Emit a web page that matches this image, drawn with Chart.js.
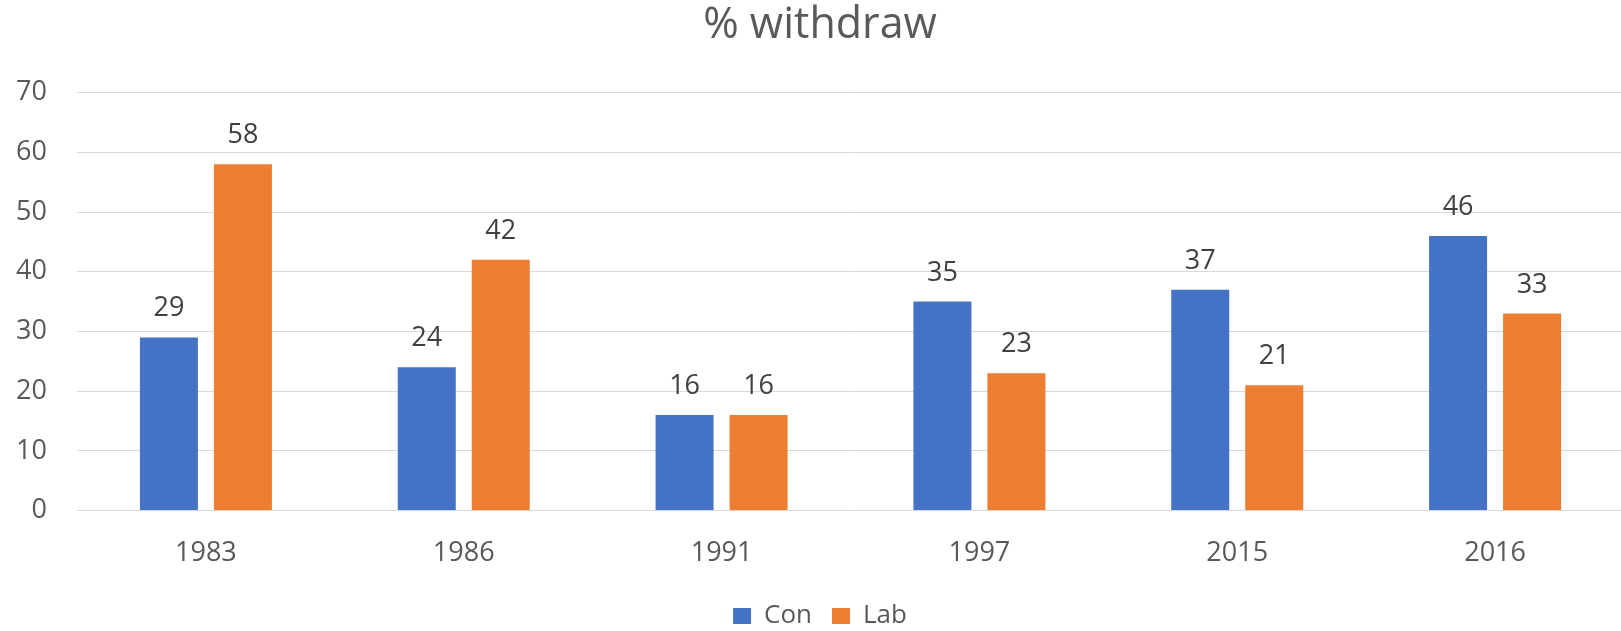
<!DOCTYPE html>
<html>
<head>
<meta charset="utf-8">
<script src="https://cdn.jsdelivr.net/npm/chart.js@4.4.0/dist/chart.umd.min.js"></script>
<style>
  html, body { margin: 0; padding: 0; background: #ffffff; overflow: hidden; }
  #wrap { width: 1648px; height: 631px; }
</style>
</head>
<body>
<div id="wrap"><canvas id="c" width="1648" height="631"></canvas></div>
<script>
const categories = ["1983", "1986", "1991", "1997", "2015", "2016"];
const conValues = [29, 24, 16, 35, 37, 46];
const labValues = [58, 42, 16, 23, 21, 33];
const seriesNames = ["Con", "Lab"];
const titleText = "% withdraw";

const FONT = "'Open Sans', 'Liberation Sans', sans-serif";

const dataLabels = {
  id: 'dataLabels',
  afterDatasetsDraw(chart) {
    const ctx = chart.ctx;
    ctx.save();
    ctx.font = "27px " + FONT;
    ctx.fillStyle = "#404040";
    ctx.textAlign = "center";
    ctx.textBaseline = "alphabetic";
    chart.data.datasets.forEach((ds, i) => {
      chart.getDatasetMeta(i).data.forEach((bar, j) => {
        ctx.fillText(String(ds.data[j]), bar.x, bar.y - 21);
      });
    });
    ctx.restore();
  }
};

new Chart(document.getElementById('c'), {
  type: 'bar',
  data: {
    labels: categories,
    datasets: [
      { label: seriesNames[0], data: conValues, backgroundColor: '#4472C4', borderWidth: 0 },
      { label: seriesNames[1], data: labValues, backgroundColor: '#ED7D31', borderWidth: 0 }
    ]
  },
  options: {
    responsive: false,
    animation: false,
    devicePixelRatio: 1,
    layout: { padding: { left: 16, right: 24, top: 0, bottom: -8 } },
    datasets: { bar: { categoryPercentage: 0.574, barPercentage: 0.784 } },
    plugins: {
      title: {
        display: true,
        text: titleText,
        color: '#595959',
        font: { family: FONT, size: 43, weight: 'normal' },
        padding: { top: 0, bottom: 41 }
      },
      legend: {
        display: true,
        position: 'bottom',
        labels: {
          color: '#595959',
          font: { family: FONT, size: 26 },
          boxWidth: 18,
          boxHeight: 16,
          padding: 20
        }
      },
      tooltip: { enabled: false }
    },
    scales: {
      x: {
        afterFit(scale) { scale.height = scale.height - 14; },
        grid: { display: false, drawTicks: false },
        border: { display: false },
        ticks: { color: '#595959', font: { family: FONT, size: 27 }, padding: 27 }
      },
      y: {
        min: 0,
        max: 70,
        afterFit(scale) { scale.width = 61; },
        grid: { color: '#d9d9d9', lineWidth: 1, drawTicks: false },
        border: { display: false },
        ticks: { stepSize: 10, color: '#595959', font: { family: FONT, size: 27 }, padding: 30 }
      }
    }
  },
  plugins: [dataLabels]
});
</script>
</body>
</html>
